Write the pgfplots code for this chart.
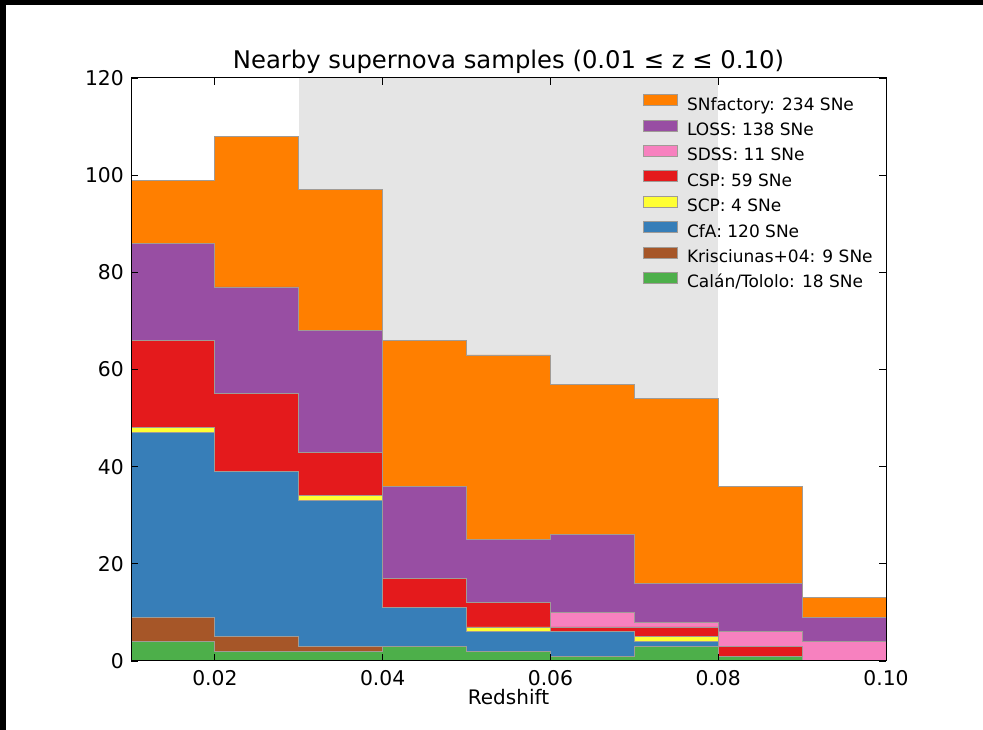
\documentclass[border=0pt]{standalone}
\usepackage{pgfplots}
\pgfplotsset{compat=1.18}
\usepackage{pgfplotstable}
\usepackage{fontspec}
\setmainfont{DejaVu Sans}
\definecolor{cSNF}{HTML}{FF7F00}
\definecolor{cLOSS}{HTML}{984EA3}
\definecolor{cSDSS}{HTML}{F781BF}
\definecolor{cCSP}{HTML}{E41A1C}
\definecolor{cSCP}{HTML}{FFFF33}
\definecolor{cCFA}{HTML}{377EB8}
\definecolor{cKRIS}{HTML}{A65628}
\definecolor{cCAL}{HTML}{4DAF4A}
\definecolor{edge}{RGB}{160,155,150}
\definecolor{band}{RGB}{229,229,229}
\pgfplotstableread{
x    cal kris cfa scp csp sdss loss snf
0.01 4   5    38  1   18  0    20   13
0.02 2   3    34  0   16  0    22   31
0.03 2   1    30  1   9   0    25   29
0.04 3   0    8   0   6   0    19   30
0.05 2   0    4   1   5   0    13   38
0.06 1   0    5   0   1   3    16   31
0.07 3   0    1   1   2   1    8    38
0.08 1   0    0   0   2   3    10   20
0.09 0   0    0   0   0   4    5    4
0.10 0   0    0   0   0   4    5    4
}\data
\begin{document}
\begin{tikzpicture}[x=1pt,y=1pt]
\path[use as bounding box] (0,0) rectangle (983,730);
\fill[white] (0,0) rectangle (983,730);
\fill[black] (0,725) rectangle (983,730);
\fill[black] (0,0) rectangle (6,730);
% background band (redshift range 0.03-0.08)
\begin{axis}[
  at={(131pt,69pt)}, anchor=south west,
  scale only axis, width=755pt, height=583pt,
  xmin=0.01, xmax=0.10, ymin=0, ymax=120,
  hide axis,
]
\addplot[fill=band, draw=none] coordinates {(0.03,0) (0.03,120) (0.08,120) (0.08,0)} -- cycle;
\end{axis}
\begin{axis}[
  at={(131pt,69pt)}, anchor=south west,
  scale only axis, width=755pt, height=583pt,
  xmin=0.01, xmax=0.10, ymin=0, ymax=120,
  stack plots=y, const plot,
  axis on top,
  axis line style={black, line width=1pt},
  tick align=inside, tick pos=both,
  major tick length=7pt,
  every tick/.style={black, line width=0.8pt},
  xtick={0.02,0.04,0.06,0.08,0.10},
  ytick={0,20,40,60,80,100,120},
  minor tick num=0,
  /pgf/number format/assume math mode=true,
  xticklabel style={/pgf/number format/.cd, fixed, fixed zerofill, precision=2, /tikz/.cd,
     font=\fontsize{20.3}{24}\selectfont, anchor=north, inner sep=0pt, yshift=-9pt},
  yticklabel style={font=\fontsize{20.3}{24}\selectfont, anchor=east, inner sep=0pt, xshift=-7pt},
  scaled x ticks=false,
  xlabel={Redshift},
  xlabel style={font=\fontsize{20}{24}\selectfont, at={(0.5,0)}, anchor=base, yshift=-44pt},
  title={Nearby supernova samples (0.01 ≤ z ≤ 0.10)},
  every axis title/.style={font=\fontsize{24.3}{29}\selectfont, at={(0.5,1)}, anchor=base, yshift=9pt},
  reverse legend,
  legend cell align=left,
  legend image code/.code={\draw[#1] (0pt,0pt) rectangle (34pt,11pt);},
  legend style={at={(0.6777,0.9724)}, anchor=north west, draw=none, fill=none,
     inner sep=0pt, row sep=3.5pt, column sep=7.4pt,
     font=\fontsize{17}{20.5}\selectfont,
     nodes={inner sep=2pt, text height=13pt, text depth=4pt}},
]
\addplot[fill=cCAL, draw=edge, line width=0.8pt] table[x=x,y=cal]{\data} \closedcycle;
\addplot[fill=cKRIS, draw=edge, line width=0.8pt] table[x=x,y=kris]{\data} \closedcycle;
\addplot[fill=cCFA, draw=edge, line width=0.8pt] table[x=x,y=cfa]{\data} \closedcycle;
\addplot[fill=cSCP, draw=edge, line width=0.8pt] table[x=x,y=scp]{\data} \closedcycle;
\addplot[fill=cCSP, draw=edge, line width=0.8pt] table[x=x,y=csp]{\data} \closedcycle;
\addplot[fill=cSDSS, draw=edge, line width=0.8pt] table[x=x,y=sdss]{\data} \closedcycle;
\addplot[fill=cLOSS, draw=edge, line width=0.8pt] table[x=x,y=loss]{\data} \closedcycle;
\addplot[fill=cSNF, draw=edge, line width=0.8pt] table[x=x,y=snf]{\data} \closedcycle;
\legend{Calán/Tololo: 18 SNe, Krisciunas+04: 9 SNe, CfA: 120 SNe, SCP: 4 SNe, CSP: 59 SNe, SDSS: 11 SNe, LOSS: 138 SNe, SNfactory: 234 SNe}
\end{axis}
\end{tikzpicture}
\end{document}
